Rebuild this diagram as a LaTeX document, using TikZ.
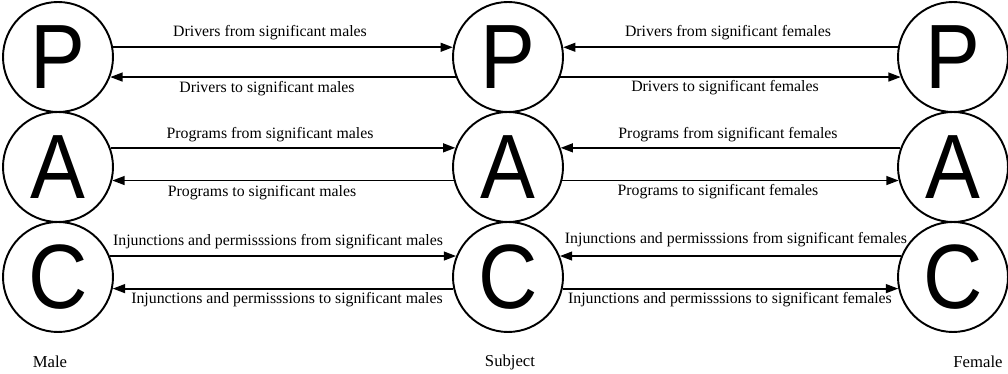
\documentclass[tikz,border=0pt]{standalone}
\usepackage{fontspec}
\setmainfont{Liberation Serif}
\newfontfamily\circfont[FakeStretch=0.9]{Liberation Sans}
\usetikzlibrary{arrows.meta}
\begin{document}
\begin{tikzpicture}[x=0.02cm,y=-0.02cm,
  ego/.style={circle,draw,line width=1.1pt,minimum size=2.2cm,inner sep=0pt,font=\circfont\fontsize{52}{52}\selectfont},
  link/.style={line width=1.05pt,-{Triangle[length=7pt,width=5pt]}},
  lab/.style={font=\fontsize{9}{10}\selectfont,inner sep=0pt},
  who/.style={font=\fontsize{9.5}{11}\selectfont,inner sep=0pt}]
\useasboundingbox (0,0) rectangle (1008,374);
% circles
\node[ego] (LP) at (58,57) {P};
\node[ego] (LA) at (58,167) {A};
\node[ego] (LC) at (58,277) {C};
\node[ego] (MP) at (508,57) {P};
\node[ego] (MA) at (508,167) {A};
\node[ego] (MC) at (508,277) {C};
\node[ego] (RP) at (953,57) {P};
\node[ego] (RA) at (953,167) {A};
\node[ego] (RC) at (953,277) {C};
% connectors, left side
\draw[link] (LP.10) -- (MP.170);
\draw[link] (MP.201) -- (LP.339);
\draw[link] (LA.20) -- (MA.160);
\draw[link] (MA.194) -- (LA.346);
\draw[link] (LC.22) -- (MC.158);
\draw[link] (MC.192) -- (LC.348);
% connectors, right side
\draw[link] (RP.170) -- (MP.10);
\draw[link] (MP.339) -- (RP.201);
\draw[link] (RA.160) -- (MA.20);
\draw[link] (MA.346) -- (RA.194);
\draw[link] (RC.158) -- (MC.22);
\draw[link] (MC.348) -- (RC.192);
% labels, left
\node[lab] (l1) at (270,33) {Drivers from significant males};
\node[lab] (l2) at (267,89) {Drivers to significant males};
\node[lab] (l3) at (270,135) {Programs from significant males};
\node[lab] (l4) at (262,193) {Programs to significant males};
\node[lab] (l5) at (278,242) {Injunctions and permisssions from significant males};
\node[lab] (l6) at (287,300) {Injunctions and permisssions to significant males};
% labels, right
\node[lab] (r1) at (728,33) {Drivers from significant females};
\node[lab] (r2) at (725,88) {Drivers to significant females};
\node[lab] (r3) at (728,135) {Programs from significant females};
\node[lab] (r4) at (718,192) {Programs to significant females};
\node[lab] (r5) at (736,240) {Injunctions and permisssions from significant females};
\node[lab] (r6) at (730,300) {Injunctions and permisssions to significant females};
% bottom captions
\node[who] (male) at (50,362) {Male};
\node[who] (subj) at (510,362) {Subject};
\node[who] (fem) at (978,362) {Female};
\end{tikzpicture}
\end{document}
